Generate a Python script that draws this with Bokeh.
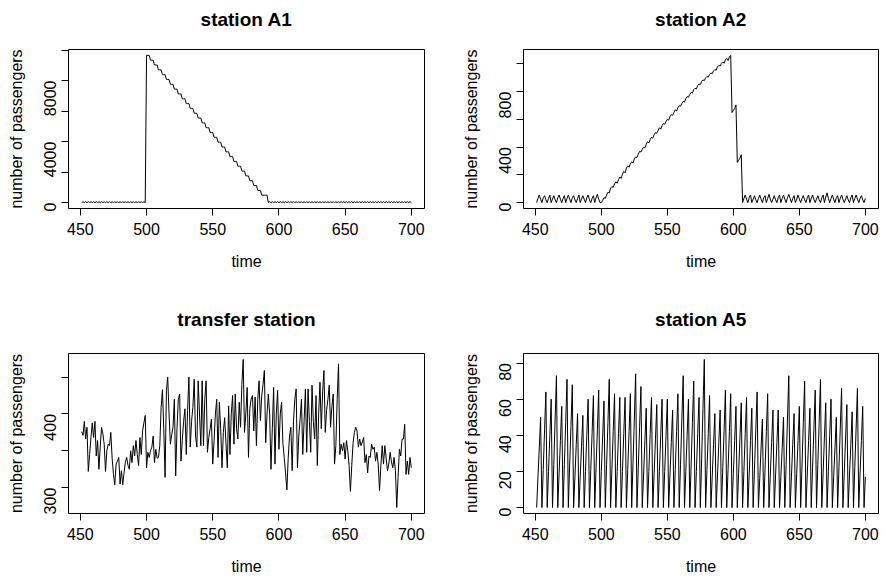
import math
from bokeh.plotting import figure
from bokeh.layouts import column, row
from bokeh.models import Range1d, FixedTicker
from bokeh.core.properties import value
from bokeh.embed import file_html
from bokeh.resources import INLINE

FONT = "Liberation Sans"

# ---------------- data (time runs 451 .. 700) ----------------
T_START = 451
x_tick_values = [450, 500, 550, 600, 650, 700]

titles = ["station A1", "station A2", "transfer station", "station A5"]
x_label = "time"
y_label = "number of passengers"

station_a1 = [
    0, 60, 0, 60, 0, 60, 0, 60, 0, 60,
    0, 60, 0, 60, 0, 60, 0, 60, 0, 60,
    0, 60, 0, 60, 0, 60, 0, 60, 0, 60,
    0, 60, 0, 60, 0, 60, 0, 60, 0, 60,
    0, 60, 0, 60, 0, 60, 0, 60, 0,
    9650, 9650, 9650,
    9334, 9334, 9334, 9018, 9018, 9018, 8702, 8702, 8702, 8386, 8386, 8386,
    8070, 8070, 8070, 7754, 7754, 7754, 7438, 7438, 7438, 7122, 7122, 7122,
    6806, 6806, 6806, 6490, 6490, 6490, 6174, 6174, 6174, 5858, 5858, 5858,
    5542, 5542, 5542, 5226, 5226, 5226, 4910, 4910, 4910, 4594, 4594, 4594,
    4278, 4278, 4278, 3962, 3962, 3962, 3646, 3646, 3646, 3330, 3330, 3330,
    3014, 3014, 3014, 2698, 2698, 2698, 2382, 2382, 2382, 2066, 2066, 2066,
    1750, 1750, 1750, 1434, 1434, 1434, 1118, 1118, 1118, 802, 802, 802,
    486, 486, 486, 486, 486,
    0, 60, 0, 60, 0, 60, 0, 60, 0, 60,
    0, 60, 0, 60, 0, 60, 0, 60, 0, 60,
    0, 60, 0, 60, 0, 60, 0, 60, 0, 60,
    0, 60, 0, 60, 0, 60, 0, 60, 0, 60,
    0, 60, 0, 60, 0, 60, 0, 60, 0, 60,
    0, 60, 0, 60, 0, 60, 0, 60, 0, 60,
    0, 60, 0, 60, 0, 60, 0, 60, 0, 60,
    0, 60, 0, 60, 0, 60, 0, 60, 0, 60,
    0, 60, 0, 60, 0, 60, 0, 60, 0, 60,
    0, 60, 0, 60, 0, 60, 0, 60, 0, 60,
    0, 60, 0, 60, 0, 60, 0, 60, 0,
]

station_a2 = [
    # 451-499
    0, 30, 55, 25, 0, 35, 50, 20, 0, 30, 55, 0, 25, 50, 20, 0, 35, 55, 25,
    0, 30, 50, 0, 30, 55, 25, 0, 35, 50, 20, 0, 30, 55, 0, 25, 50, 25,
    0, 35, 55, 20, 0, 30, 50, 0, 35, 60, 25, 0,
    # 500-607
    0, 15, 35, 30, 55, 75, 70, 105, 115, 110,
    135, 150, 140, 165, 185, 175, 205, 225, 215, 250,
    265, 255, 280, 295, 285, 315, 330, 325, 350, 370,
    365, 385, 400, 395, 420, 440, 430, 455, 470, 465,
    490, 505, 500, 520, 540, 530, 555, 570, 565, 585,
    600, 595, 620, 635, 630, 650, 670, 660, 685, 700,
    695, 715, 730, 725, 750, 765, 760, 780, 795, 790,
    815, 825, 820, 845, 855, 850, 875, 885, 880, 900,
    910, 905, 925, 935, 930, 950, 960, 955, 980, 990,
    985, 1005, 1015, 1005, 1030, 1040, 1025, 1050, 1062, 650,
    665, 680, 705, 290, 305, 320, 345, 0,
    # 608-700
    30, 55, 25, 0, 35, 55, 0, 25, 50, 20, 0, 30, 55, 25, 0, 35, 50, 0,
    30, 60, 25, 0, 25, 50, 20, 0, 35, 55, 0, 30, 55, 25, 0, 35, 60, 30, 0,
    30, 50, 0, 25, 55, 25, 0, 30, 50, 20, 0, 35, 55, 0, 30, 55, 25, 0,
    25, 50, 20, 0, 35, 55, 0, 40, 70, 30, 0, 30, 55, 25, 0, 35, 50, 0,
    30, 55, 25, 0, 25, 50, 20, 0, 35, 55, 0, 30, 55, 25, 0, 30, 50, 20, 0,
    30,
]

transfer_station = [
    376, 371, 390, 366, 382, 322, 345, 368, 388, 368,   # 451-460
    390, 343, 364, 325, 355, 382, 373, 359, 322, 350,   # 461-470
    359, 357, 375, 340, 318, 304, 332, 336, 341, 305,   # 471-480
    323, 304, 320, 335, 341, 330, 325, 350, 334, 357,   # 481-490
    343, 364, 345, 330, 368, 345, 377, 388, 398, 327,   # 491-500
    348, 341, 350, 355, 370, 334, 352, 340, 341, 357,   # 501-510
    409, 433, 380, 314, 432, 450, 400, 359, 372, 382,   # 511-520
    420, 316, 380, 420, 427, 336, 364, 390, 407, 345,   # 521-530
    405, 450, 355, 390, 409, 447, 370, 355, 445, 400,   # 531-540
    357, 445, 357, 420, 445, 348, 368, 380, 393, 332,   # 541-550
    364, 400, 420, 341, 416, 380, 327, 375, 395, 360,   # 551-560
    327, 411, 345, 400, 425, 359, 427, 380, 366, 416,   # 561-570
    382, 440, 474, 375, 400, 436, 341, 407, 420, 425,   # 571-580
    377, 423, 357, 420, 445, 391, 425, 440, 459, 361,   # 581-590
    400, 427, 400, 325, 380, 436, 332, 400, 432, 352,   # 591-600
    400, 416, 360, 341, 320, 297, 340, 370, 382, 323,   # 601-610
    390, 420, 434, 327, 370, 393, 420, 345, 390, 434,   # 611-620
    348, 434, 390, 348, 439, 390, 366, 425, 330, 400,   # 621-630
    443, 380, 430, 459, 375, 405, 420, 439, 382, 410,   # 631-640
    427, 332, 357, 420, 468, 345, 359, 350, 361, 339,   # 641-650
    364, 350, 330, 295, 330, 361, 375, 382, 377, 355,   # 651-660
    366, 357, 362, 368, 334, 345, 320, 343, 341, 359,   # 661-670
    352, 355, 336, 348, 332, 296, 330, 357, 332, 357,   # 671-680
    340, 323, 332, 348, 335, 327, 341, 323, 273, 314,   # 681-690
    352, 343, 366, 366, 386, 318, 336, 318, 341, 327,   # 691-700
]

station_a5 = [
    0, 17, 33, 50,  0, 21, 43, 64,  0, 20, 40, 60,  0, 24, 49, 73,
    0, 19, 37, 56,  0, 24, 47, 71,  0, 23, 45, 68,  0, 17, 35, 52,
    0, 17, 34, 51,  0, 20, 40, 60,  0, 21, 41, 62,  0, 22, 43, 65,
    0, 20, 39, 59,  0, 24, 47, 71,  0, 21, 42, 63,  0, 20, 41, 61,
    0, 20, 41, 61,  0, 21, 42, 63,  0, 25, 49, 74,  0, 22, 45, 67,
    0, 18, 37, 55,  0, 20, 41, 61,  0, 19, 38, 57,  0, 20, 40, 60,
    0, 20, 40, 60,  0, 18, 36, 54,  0, 21, 42, 63,  0, 24, 49, 73,
    0, 20, 40, 60,  0, 23, 47, 70,  0, 20, 41, 61,  0, 27, 55, 82,
    0, 21, 41, 62,  0, 17, 35, 52,  0, 18, 36, 54,  0, 22, 43, 65,
    0, 21, 42, 63,  0, 19, 37, 56,  0, 19, 39, 58,  0, 20, 41, 61,
    0, 18, 37, 55,  0, 21, 43, 64,  0, 16, 33, 49,  0, 21, 42, 63,
    0, 18, 36, 54,  0, 18, 36, 54,  0, 17, 33, 50,  0, 24, 49, 73,
    0, 17, 35, 52,  0, 19, 37, 56,  0, 23, 47, 70,  0, 18, 37, 55,
    0, 22, 43, 65,  0, 24, 47, 71,  0, 19, 39, 58,  0, 20, 40, 60,
    0, 17, 33, 50,  0, 22, 44, 66,  0, 19, 38, 57,  0, 18, 35, 53,
    0, 22, 44, 66,  0, 19, 37, 56,
    0, 17,
]

y_ticks_a1 = [0, 2000, 4000, 6000, 8000, 10000]
y_labels_a1 = ["0", "", "4000", "", "8000", ""]
y_ticks_a2 = [0, 200, 400, 600, 800, 1000]
y_labels_a2 = ["0", "", "400", "", "800", ""]
y_ticks_tr = [300, 350, 400, 450]
y_labels_tr = ["300", "", "400", ""]
y_ticks_a5 = [0, 20, 40, 60, 80]
y_labels_a5 = ["0", "20", "40", "60", "80"]

W = 442


def title_strip(title, height, baseline_from_bottom):
    """A bare strip above a panel; its frame is aligned with the panel's frame,
    so the title is put at the middle of the x range."""
    s = figure(width=W, height=height, x_range=Range1d(0, 1), y_range=Range1d(0, height),
               output_backend="svg", toolbar_location=None,
               x_axis_location=None, y_axis_location=None,
               min_border_left=0, min_border_right=0, min_border_top=0, min_border_bottom=0)
    s.title = None
    s.grid.visible = False
    s.outline_line_color = None
    s.background_fill_color = "white"
    s.border_fill_color = "white"
    s.text(x=[0.5], y=[baseline_from_bottom], text=[title],
           text_font=value(FONT), text_font_size="19px", text_font_style="bold",
           text_color="black", text_align="center", text_baseline="alphabetic")
    return s


def panel(values, yticks, ylabels, left, right, top, bottom, height):
    t = list(range(T_START, T_START + len(values)))
    tx0, tx1 = t[0], t[-1]
    rx = tx1 - tx0
    lo, hi = min(values), max(values)
    ry = hi - lo
    p = figure(width=W, height=height,
               x_range=Range1d(tx0 - 0.04 * rx, tx1 + 0.04 * rx),
               y_range=Range1d(lo - 0.04 * ry, hi + 0.04 * ry),
               output_backend="svg", toolbar_location=None,
               min_border_left=left, min_border_right=right,
               min_border_top=top, min_border_bottom=bottom)
    p.title = None
    p.line(t, values, line_color="black", line_width=1)

    p.background_fill_color = "white"
    p.border_fill_color = "white"
    p.outline_line_color = "black"
    p.outline_line_width = 1
    p.grid.visible = False

    for ax in (p.xaxis[0], p.yaxis[0]):
        ax.axis_line_color = None
        ax.major_tick_line_color = "black"
        ax.major_tick_out = 7
        ax.major_tick_in = 0
        ax.minor_tick_line_color = None
        ax.major_label_text_font = FONT
        ax.major_label_text_font_size = "16px"
        ax.major_label_text_color = "black"
        ax.axis_label_text_font = FONT
        ax.axis_label_text_font_size = "16px"
        ax.axis_label_text_font_style = "normal"
        ax.axis_label_text_color = "black"

    xa = p.xaxis[0]
    xa.ticker = FixedTicker(ticks=x_tick_values)
    xa.axis_label = x_label
    xa.major_label_standoff = 7
    xa.axis_label_standoff = 15

    ya = p.yaxis[0]
    ya.ticker = FixedTicker(ticks=yticks)
    ya.major_label_overrides = {v: s for v, s in zip(yticks, ylabels)}
    ya.major_label_orientation = math.pi / 2
    ya.axis_label = y_label
    ya.major_label_standoff = 11
    ya.axis_label_standoff = 11
    return p


s1 = title_strip(titles[0], 40, 21)
s2 = title_strip(titles[1], 40, 21)
s3 = title_strip(titles[2], 50, 21)
s4 = title_strip(titles[3], 50, 21)

p1 = panel(station_a1, y_ticks_a1, y_labels_a1, 68, 18, 9, 82, 250)
p2 = panel(station_a2, y_ticks_a2, y_labels_a2, 81, 6, 9, 82, 250)
p3 = panel(transfer_station, y_ticks_tr, y_labels_tr, 68, 18, 13, 67, 240)
p4 = panel(station_a5, y_ticks_a5, y_labels_a5, 81, 6, 13, 67, 240)

layout = column(
    row(column(s1, p1), column(s2, p2)),
    row(column(s3, p3), column(s4, p4)),
)

open("out.html", "w").write(file_html(layout, INLINE))
